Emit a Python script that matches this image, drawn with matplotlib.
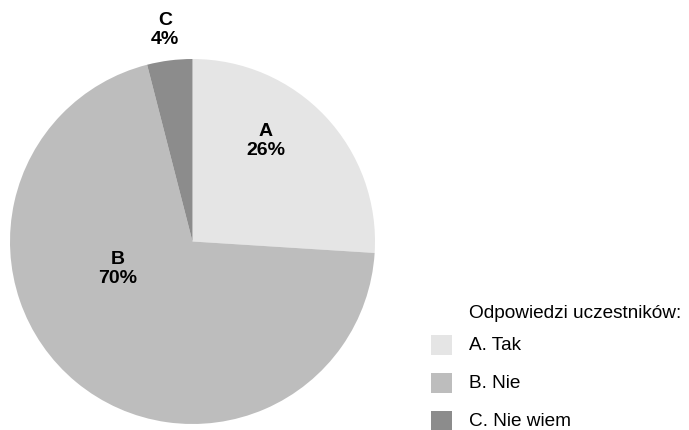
import matplotlib
matplotlib.use('Agg')
import matplotlib.pyplot as plt
from matplotlib.patches import Rectangle

plt.rcParams['font.family'] = ['Liberation Sans', 'DejaVu Sans']

# data
letters = ['A', 'B', 'C']
legend_labels = ['A. Tak', 'B. Nie', 'C. Nie wiem']
values = [26, 70, 4]
colors = ['#e5e5e5', '#bdbdbd', '#8c8c8c']
legend_title = 'Odpowiedzi uczestników:'

# label positions in pie units (radius = 1)
label_pos = [(0.40, 0.55), (-0.41, -0.15), (-0.15, 1.16)]

W, H = 689, 430
fig = plt.figure(figsize=(W / 100, H / 100), dpi=100)

# pie axes: circle centred at (192, 241.5), radius 182.5 px
cx, cy, r = 192.5, 241.5, 182.5
ax = fig.add_axes([(cx - r) / W, (H - cy - r) / H, 2 * r / W, 2 * r / H])
ax.pie(values, colors=colors, startangle=90, counterclock=False,
       radius=1, wedgeprops=dict(linewidth=0))
ax.set_xlim(-1, 1)
ax.set_ylim(-1, 1)
ax.set_aspect('equal')
ax.axis('off')

for let, v, (x, y) in zip(letters, values, label_pos):
    ax.text(x, y, f'{let}\n{v}%', ha='center', va='center',
            fontsize=14, fontweight='bold', linespacing=1.2, clip_on=False)

# legend drawn by hand
fig.text(469 / W, 1 - 313 / H, legend_title, ha='left', va='center', fontsize=13.7)
row_y = [345, 383, 421]
for lab, c, y in zip(legend_labels, colors, row_y):
    fig.patches.append(Rectangle((431 / W, 1 - (y + 10) / H), 21 / W, 20 / H,
                                 facecolor=c, edgecolor='none',
                                 transform=fig.transFigure, figure=fig))
    fig.text(469 / W, 1 - y / H, lab, ha='left', va='center', fontsize=13.7)

fig.savefig('out.png', dpi=100)
